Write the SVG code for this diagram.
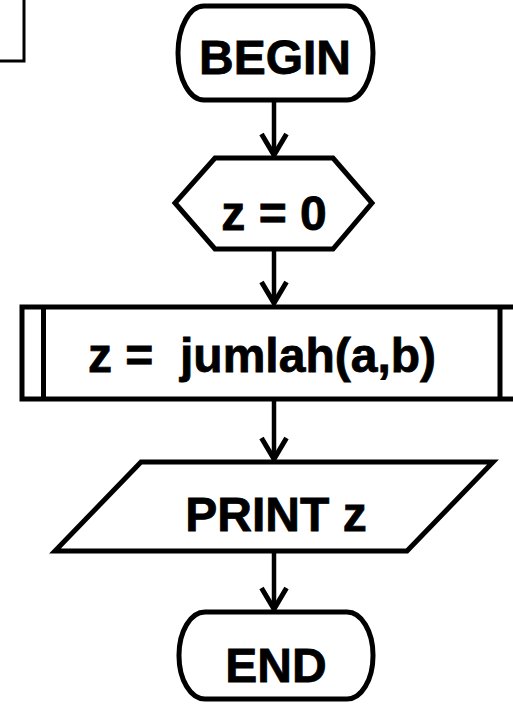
<svg xmlns="http://www.w3.org/2000/svg" width="513" height="704" viewBox="0 0 513 704">
<style>
.s{fill:#fff;stroke:#000;stroke-width:5;stroke-linejoin:miter}
.t{font-family:"Liberation Sans",Arial,sans-serif;font-weight:bold;font-size:48px;fill:#000;stroke:#000;stroke-width:0.8;text-anchor:middle}
.c{fill:none;stroke:#000;stroke-width:4.5}
</style>
<defs>
<marker id="ah" markerUnits="userSpaceOnUse" markerWidth="30" markerHeight="30" refX="25" refY="15" orient="auto" viewBox="0 0 30 30">
<path d="M4,2.5 L25,15 L4,27.5" fill="none" stroke="#000" stroke-width="5" stroke-linejoin="miter"/>
</marker>
</defs>
<rect width="513" height="704" fill="#fff"/>
<g id="corner-box"><path d="M0,61 H24 V0" fill="none" stroke="#000" stroke-width="3"/></g>
<g id="begin"><rect class="s" x="178" y="6" width="195" height="94" rx="26" ry="47" stroke-width="4.5"/><text class="t" x="275" y="74">BEGIN</text></g>
<g id="init"><polygon class="s" points="215,158 333,158 372,203 333,249 215,249 175,203"/><text class="t" x="274" y="230">z = 0</text></g>
<g id="process"><rect class="s" x="22" y="307" width="500" height="92"/><line x1="43.5" y1="307" x2="43.5" y2="399" stroke="#000" stroke-width="5"/><line x1="500" y1="307" x2="500" y2="399" stroke="#000" stroke-width="5"/><text class="t" x="262" y="372" xml:space="preserve">z =  jumlah(a,b)</text></g>
<g id="print"><polygon class="s" points="141,462 493,462 407,551 55,551"/><text class="t" x="276" y="531">PRINT z</text></g>
<g id="end"><rect class="s" x="179" y="612" width="194" height="87" rx="26" ry="43" stroke-width="4.5"/><text class="t" x="276" y="682">END</text></g>
<g id="connectors">
<path class="c" d="M274,102 V155" marker-end="url(#ah)"/>
<path class="c" d="M274,251 V303" marker-end="url(#ah)"/>
<path class="c" d="M274,401 V459" marker-end="url(#ah)"/>
<path class="c" d="M274,553 V609" marker-end="url(#ah)"/>
</g>
</svg>
